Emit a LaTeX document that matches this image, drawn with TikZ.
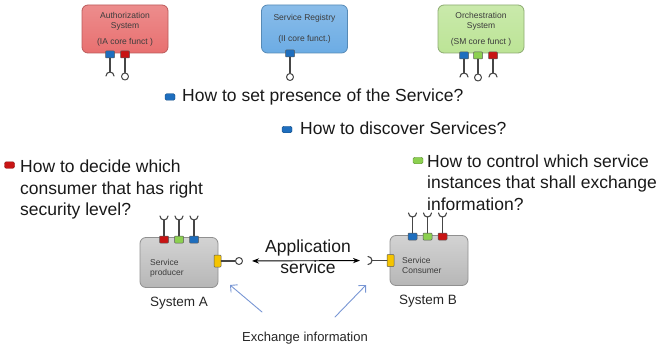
\documentclass[tikz,border=0pt]{standalone}
\usepackage{fontspec}
\setmainfont{Liberation Sans}
\usepackage{xcolor}
\usetikzlibrary{arrows.meta}

\definecolor{authred}{RGB}{232,112,112}
\definecolor{regblue}{RGB}{108,172,228}
\definecolor{orchgreen}{RGB}{188,228,150}
\definecolor{sysgray}{RGB}{192,192,192}
\definecolor{portblue}{RGB}{30,110,190}
\definecolor{portred}{RGB}{200,20,20}
\definecolor{portgreen}{RGB}{140,208,80}
\definecolor{portyellow}{RGB}{245,196,0}
\definecolor{stickgray}{RGB}{70,70,70}
\definecolor{infoblue}{RGB}{120,150,212}
\definecolor{boxtextgray}{RGB}{60,60,60}

\begin{document}
\begin{tikzpicture}[x=1pt, y=1pt, line cap=round, line join=round, >=Stealth,
  topbox/.style={rounded corners=6pt, line width=0.8pt, minimum width=86pt,
    minimum height=48pt, align=center, inner sep=0pt, text=boxtextgray,
    font=\fontsize{8.5}{10.5}\selectfont},
  sysbox/.style={rounded corners=6pt, line width=0.8pt, draw=sysgray!75!black,
    top color=sysgray!70!white, bottom color=sysgray!95!black,
    minimum width=78pt, minimum height=50pt},
  boxtext/.style={align=left, inner sep=0pt, text=boxtextgray,
    font=\fontsize{8.5}{10.5}\selectfont},
  port/.style={draw=black!65, line width=0.5pt, minimum width=9pt,
    minimum height=7pt, inner sep=0pt, rounded corners=0.8pt},
  sideport/.style={port, minimum width=7pt, minimum height=12pt},
  stick/.style={draw=stickgray, line width=1.1pt},
  plug/.style={circle, draw=stickgray, line width=1pt, fill=white,
    minimum size=7pt, inner sep=0pt},
  bullet/.style={rounded corners=1.5pt, minimum width=10pt, minimum height=6.5pt,
    inner sep=0pt, draw=#1!70!black, fill=#1},
  question/.style={inner sep=0pt, align=left, text=black!90,
    font=\fontsize{17.5}{21.5}\selectfont},
  syslabel/.style={inner sep=0pt, text=black!85, font=\fontsize{13.5}{16}\selectfont},
  infoarrow/.style={draw=infoblue, line width=0.9pt, -{Straight Barb[length=5pt]}}]
  \useasboundingbox (0,0) rectangle (662,-345);

  % core systems
  \node[topbox, draw=authred!80!black, top color=authred!80!white, bottom color=authred]
    (auth) at (125,-29) {Authorization\\System\\[5pt](IA core funct )};
  \node[topbox, draw=regblue!80!black, top color=regblue!80!white, bottom color=regblue]
    (registry) at (304.5,-29) {Service Registry\\[11pt](II core funct.)};
  \node[topbox, draw=orchgreen!75!black, top color=orchgreen!80!white, bottom color=orchgreen]
    (orch) at (481,-29) {Orchestration\\System\\[5pt](SM core funct )};

  % core ports
  \node[port, fill=portblue] (authP1) at (110,-54.5) {};
  \node[port, fill=portred] (authP2) at (125,-54.5) {};
  \coordinate (authE1) at (110,-72);
  \node[plug] (authL2) at (125,-76.5) {};
  \draw[stick] (authP1) -- (authE1);
  \draw[stick] (authE1) ++(-4,-4) arc (180:0:4);
  \draw[stick] (authP2) -- (authL2);

  \node[port, fill=portblue] (regP1) at (290,-53.5) {};
  \node[plug] (regL1) at (290,-77) {};
  \draw[stick] (regP1) -- (regL1);

  \node[port, fill=portblue] (orchP1) at (464,-55.5) {};
  \node[port, fill=portgreen] (orchP2) at (478,-55.5) {};
  \node[port, fill=portred] (orchP3) at (493,-55.5) {};
  \coordinate (orchE1) at (464,-73);
  \node[plug] (orchL2) at (478,-77.5) {};
  \coordinate (orchE3) at (493,-73);
  \draw[stick] (orchP1) -- (orchE1);
  \draw[stick] (orchE1) ++(-4,-4) arc (180:0:4);
  \draw[stick] (orchP2) -- (orchL2);
  \draw[stick] (orchP3) -- (orchE3);
  \draw[stick] (orchE3) ++(-4,-4) arc (180:0:4);

  % questions
  \node[bullet=portblue] (b1) at (170,-97) {};
  \node[question, anchor=base west] (q1) at (182,-102) {How to set presence of the Service?};
  \node[bullet=portblue] (b2) at (287,-129.5) {};
  \node[question, anchor=base west] (q2) at (300,-134.5) {How to discover Services?};
  \node[bullet=portred] (b3) at (9.5,-165) {};
  \node[question, anchor=north west] (q3) at (20,-160) {How to decide which\\consumer that has right\\security level?};
  \node[bullet=portgreen] (b4) at (418,-160.5) {};
  \node[question, anchor=north west] (q4) at (427,-154.5) {How to control which service\\instances that shall exchange\\information?};

  % system A
  \node[sysbox] (producer) at (179,-262.5) {};
  \node[boxtext, anchor=north west] (producerText) at (150,-258.9) {Service\\producer};
  \node[port, fill=portred] (prodP1) at (164,-239.5) {};
  \node[port, fill=portgreen] (prodP2) at (179,-239.5) {};
  \node[port, fill=portblue] (prodP3) at (194,-239.5) {};
  \coordinate (prodE1) at (164,-220);
  \coordinate (prodE2) at (179,-220);
  \coordinate (prodE3) at (194,-220);
  \draw[stick] (prodP1) -- (prodE1);
  \draw[stick] (prodP2) -- (prodE2);
  \draw[stick] (prodP3) -- (prodE3);
  \draw[stick] (prodE1) ++(-4,4) arc (180:360:4);
  \draw[stick] (prodE2) ++(-4,4) arc (180:360:4);
  \draw[stick] (prodE3) ++(-4,4) arc (180:360:4);
  \node[sideport, fill=portyellow] (prodY) at (217.5,-261) {};
  \node[plug] (prodL) at (239,-261) {};
  \draw[stick] (prodY) -- (prodL);
  \node[syslabel, anchor=base] (sysA) at (179,-306) {System A};

  % system B
  \node[sysbox] (consumer) at (429,-260.5) {};
  \node[boxtext, anchor=north west] (consumerText) at (402,-256.9) {Service\\Consumer};
  \node[port, fill=portblue] (consP1) at (412.5,-236.5) {};
  \node[port, fill=portgreen] (consP2) at (427.5,-236.5) {};
  \node[port, fill=portred] (consP3) at (442.5,-236.5) {};
  \coordinate (consE1) at (412.5,-217);
  \coordinate (consE2) at (427.5,-217);
  \coordinate (consE3) at (442.5,-217);
  \draw[stick] (consP1) -- (consE1);
  \draw[stick] (consP2) -- (consE2);
  \draw[stick] (consP3) -- (consE3);
  \draw[stick] (consE1) ++(-4,4) arc (180:360:4);
  \draw[stick] (consE2) ++(-4,4) arc (180:360:4);
  \draw[stick] (consE3) ++(-4,4) arc (180:360:4);
  \node[sideport, fill=portyellow] (consY) at (390.5,-260.5) {};
  \coordinate (consCup) at (372,-260.5);
  \draw[stick] (consY) -- (consCup);
  \draw[stick] (consCup) ++(-4,4) arc (90:-90:4);
  \node[syslabel, anchor=base] (sysB) at (428,-304) {System B};

  % application service
  \draw[<->, line width=0.9pt, shorten <=9pt, shorten >=12pt] (prodL) -- (consCup);
  \node[question, align=center, anchor=north] (appText) at (308,-239.5) {Application\\service};

  % exchange information
  \node[syslabel, anchor=base, font=\fontsize{13}{15}\selectfont] (exchange) at (305,-341) {Exchange information};
  \coordinate (exA) at (262,-312);
  \coordinate (exAtip) at (230,-285);
  \coordinate (exB) at (335,-317);
  \coordinate (exBtip) at (366,-285);
  \draw[infoarrow] (exA) -- (exAtip);
  \draw[infoarrow] (exB) -- (exBtip);
\end{tikzpicture}
\end{document}
